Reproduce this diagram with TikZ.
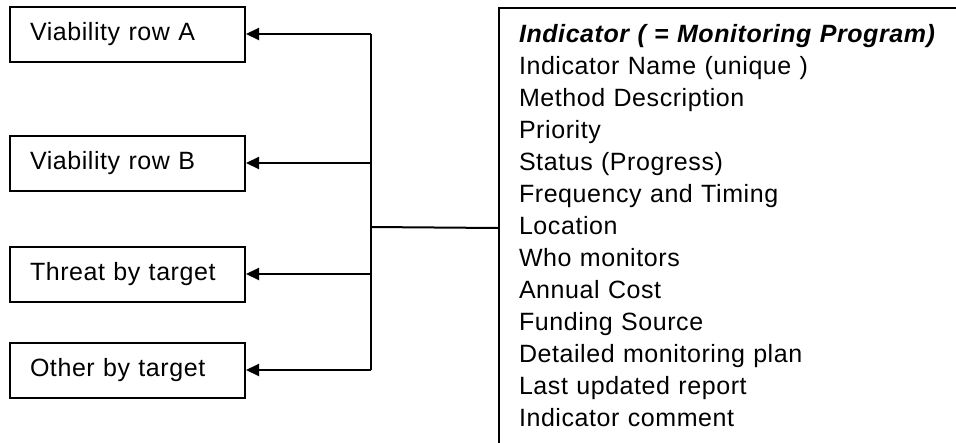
\documentclass[tikz,border=0pt]{standalone}
\usepackage{fontspec}
\setmainfont[LetterSpace=2.3]{Liberation Sans}
\usetikzlibrary{arrows.meta}

\begin{document}
\begin{tikzpicture}[x=1pt,y=-1pt,line width=2pt,>={Triangle[length=13pt,width=12pt]},
	row/.style={draw,minimum height=55pt,text width=195pt,inner xsep=20pt,align=left,font=\fontsize{25}{30}\selectfont}]
\useasboundingbox (0,0) rectangle (956,442);
\node[row]	(rowA)	at (127.5,34)	{Viability row A};
\node[row]	(rowB)	at (127.5,163)	{Viability row B};
\node[row]	(rowC)	at (127.5,274)	{Threat by target};
\node[row]	(rowD)	at (127.5,370)	{Other by target};
\node[draw,anchor=north west,minimum width=472pt,minimum height=440pt]	(ind)	at (498,7)	{};
\node[anchor=base west,inner sep=0pt,text width=440pt,align=left,font=\fontsize{25}{32}\selectfont]	(fields)	at (518,42)
	{\textbf{\textit{Indicator ( = Monitoring Program)}}\\Indicator Name (unique )\\Method Description\\Priority\\Status (Progress)\\Frequency and Timing\\Location\\Who monitors\\Annual Cost\\Funding Source\\Detailed monitoring plan\\Last updated report\\Indicator comment};
\coordinate	(jA)	at (371,34);
\coordinate	(jB)	at (371,163);
\coordinate	(jC)	at (371,274);
\coordinate	(jD)	at (371,370);
\coordinate	(jI)	at (371,227);
\draw (ind.west) -- (jI);
\draw (jA) -- (jD);
\path[->]	(jA)	edge	(rowA)
		(jB)	edge	(rowB)
		(jC)	edge	(rowC)
		(jD)	edge	(rowD);
\end{tikzpicture}
\end{document}
